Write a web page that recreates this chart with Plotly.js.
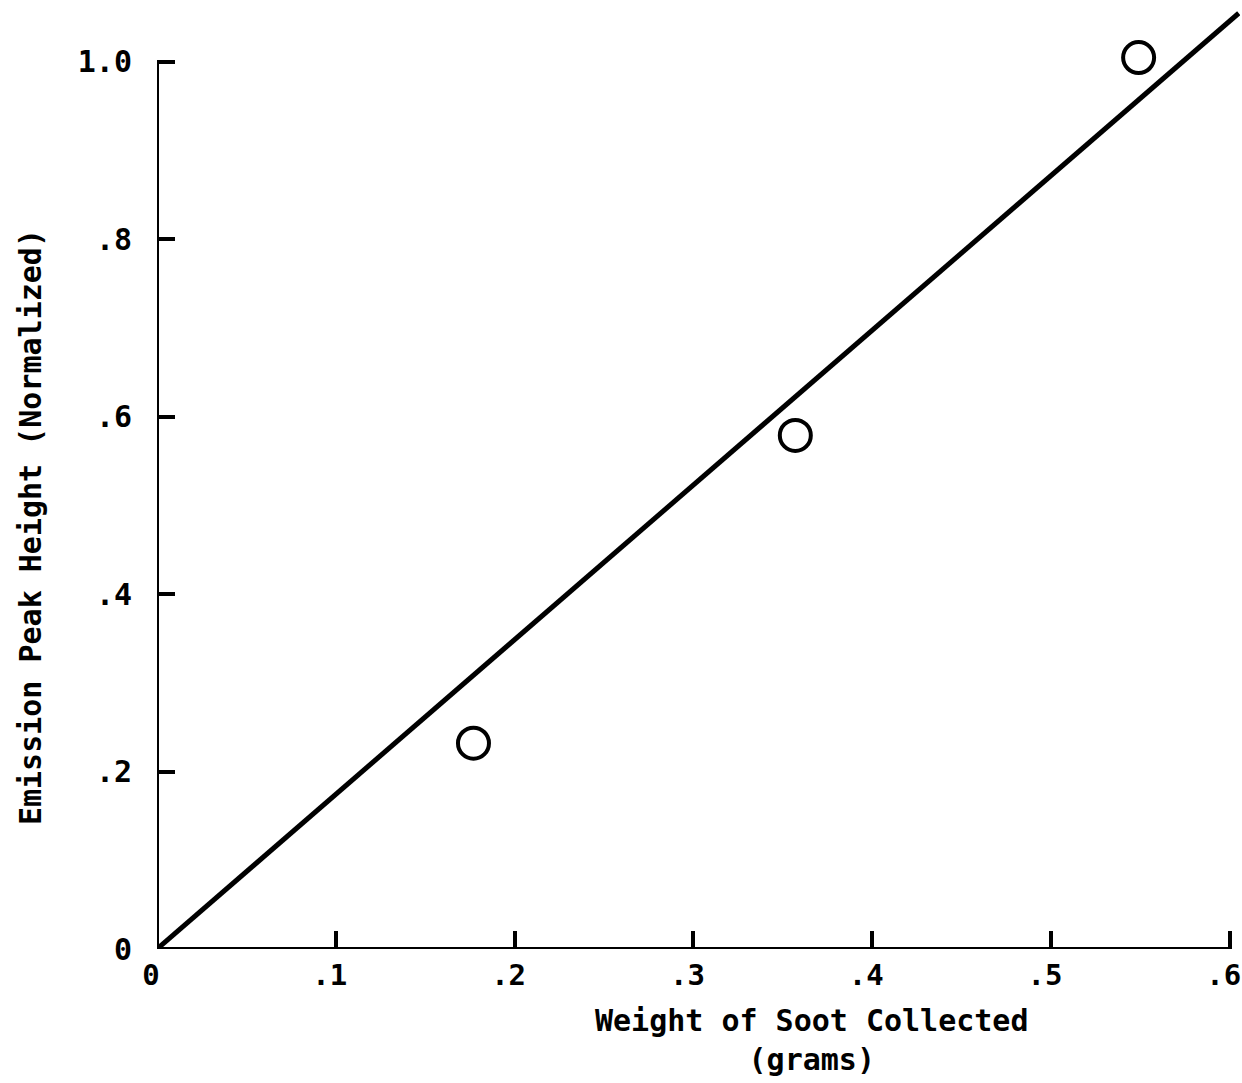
<!DOCTYPE html>
<html>
<head>
<meta charset="utf-8">
<script src="https://cdn.plot.ly/plotly-3.0.1.min.js"></script>
<style>html,body{margin:0;padding:0;background:#fff;}#chart{width:1242px;height:1083px;}</style>
</head>
<body>
<div id="chart"></div>
<script>
// Data
const sootWeight = [0.177, 0.357, 0.549];       // grams
const peakHeight = [0.232, 0.579, 1.005];       // normalized
const fitX = [0, 0.605];
const fitY = [0, 1.055];
const xTickVals = [0, 0.1, 0.2, 0.3, 0.4, 0.5, 0.6];
const xTickText = ["0", ".1", ".2", ".3", ".4", ".5", ".6"];
const yTickVals = [0, 0.2, 0.4, 0.6, 0.8, 1.0];
const yTickText = ["0", ".2", ".4", ".6", ".8", "1.0"];
const xTitle = "Weight of Soot Collected<br>(grams)";
const yTitle = "Emission Peak Height (Normalized)";

const mono = "DejaVu Sans Mono, Liberation Mono, monospace";

const traces = [
  {
    x: fitX, y: fitY, type: "scatter", mode: "lines",
    line: {color: "#000", width: 5}, hoverinfo: "skip", showlegend: false
  },
  {
    x: sootWeight, y: peakHeight, type: "scatter", mode: "markers",
    marker: {symbol: "circle-open", size: 31, color: "#000", line: {color: "#000", width: 4}},
    showlegend: false, cliponaxis: false
  }
];

const xMax = xTickVals[xTickVals.length - 1];
const yMax = yTickVals[yTickVals.length - 1];

const layout = {
  width: 1242, height: 1083,
  paper_bgcolor: "#fff", plot_bgcolor: "#fff",
  margin: {l: 157, r: 2, t: 10, b: 134},
  showlegend: false,
  xaxis: {
    range: [0, 0.6057], showgrid: false, zeroline: false, showline: false,
    tickmode: "array", tickvals: xTickVals, ticktext: xTickText,
    ticks: "inside", ticklen: 18, tickwidth: 4, tickcolor: "#000",
    ticklabelstandoff: 6, ticklabelshift: -6, ticklabeloverflow: "allow",
    tickfont: {family: mono, size: 29, color: "#000", weight: "bold"}
  },
  yaxis: {
    range: [0, 1.0586], showgrid: false, zeroline: false, showline: false,
    tickmode: "array", tickvals: yTickVals, ticktext: yTickText,
    ticks: "inside", ticklen: 18, tickwidth: 4, tickcolor: "#000",
    ticklabelstandoff: 24, ticklabeloverflow: "allow",
    tickfont: {family: mono, size: 30, color: "#000", weight: "bold"}
  },
  shapes: [
    {type: "line", xref: "x", yref: "y", x0: 0, x1: xMax, y0: 0, y1: 0, line: {color: "#000", width: 4}},
    {type: "line", xref: "x", yref: "y", x0: 0, x1: 0, y0: 0, y1: yMax, line: {color: "#000", width: 4}}
  ],
  annotations: [
    {
      text: xTitle, xref: "x", yref: "paper", x: 0.366, y: -0.055,
      xanchor: "center", yanchor: "top", showarrow: false, align: "center",
      font: {family: mono, size: 30, color: "#000", weight: "bold"}
    },
    {
      text: yTitle, xref: "paper", yref: "y", x: -0.117, y: 0.476,
      xanchor: "center", yanchor: "middle", showarrow: false, textangle: -90,
      font: {family: mono, size: 30, color: "#000", weight: "bold"}
    }
  ]
};

Plotly.newPlot("chart", traces, layout, {displayModeBar: false, staticPlot: true});
</script>
</body>
</html>
